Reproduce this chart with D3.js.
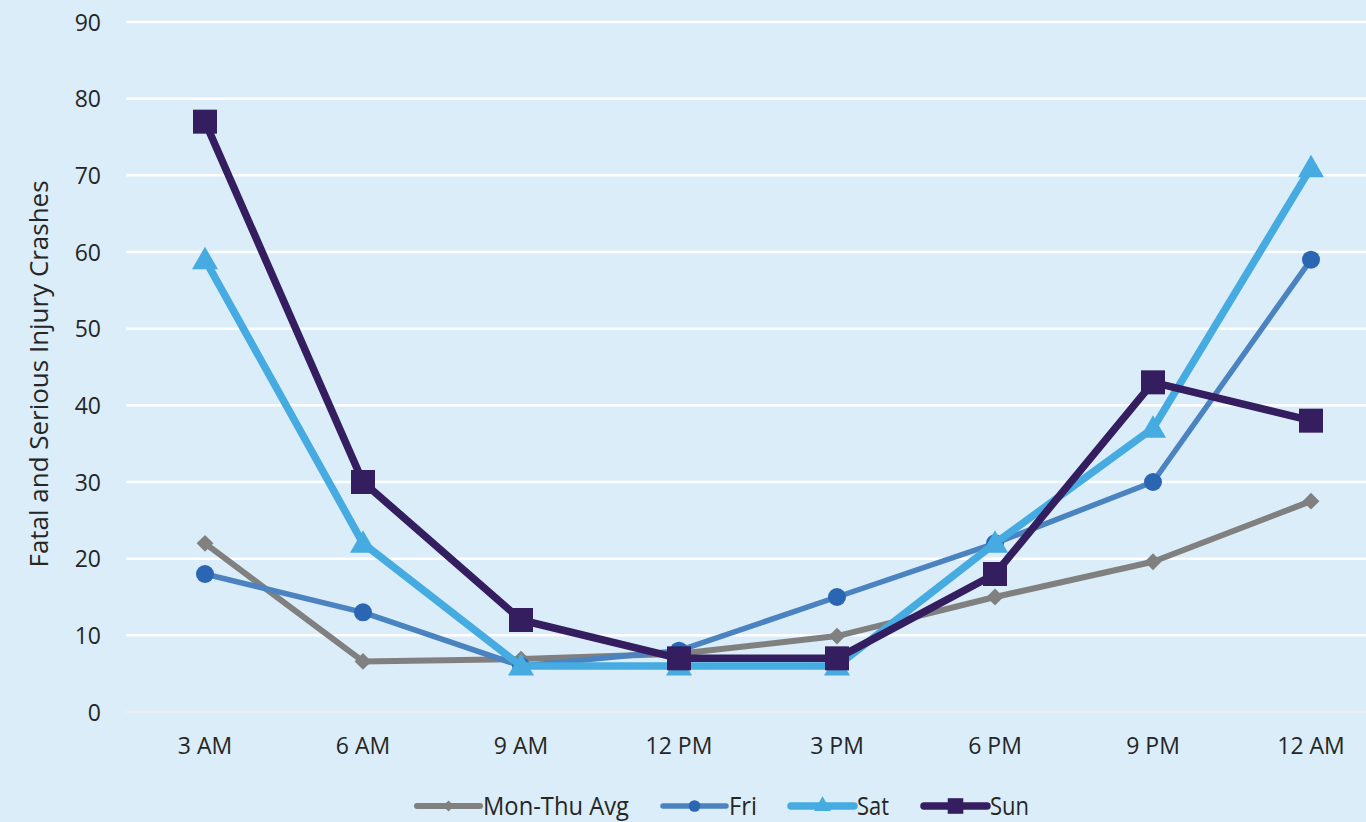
<!DOCTYPE html>
<html>
<head>
<meta charset="utf-8">
<script src="https://cdn.jsdelivr.net/npm/d3@7"></script>
<style>
  html, body { margin: 0; padding: 0; background: #daedf8; overflow: hidden; }
  svg { display: block; }
</style>
</head>
<body>
<svg id="chart" width="1366" height="822"></svg>
<script>
// Hour-of-day buckets on the horizontal axis
const hours = ["3 AM", "6 AM", "9 AM", "12 PM", "3 PM", "6 PM", "9 PM", "12 AM"];

// Crash counts per bucket for each day group
const monThuAvg = [22, 6.6, 6.9, 7.6, 9.9, 15, 19.6, 27.5];
const fri = [18, 13, 6, 8, 15, 22, 30, 59];
const sat = [59, 22, 6, 6, 6, 22, 37, 71];
const sun = [77, 30, 12, 7, 7, 18, 43, 38];

const yTicks = [0, 10, 20, 30, 40, 50, 60, 70, 80, 90];

const series = [
  { name: "Mon-Thu Avg", values: monThuAvg, line: "#808080", mark: "#808080", width: 6, shape: "diamond", size: 19, legendW: 146 },
  { name: "Fri", values: fri, line: "#4b83c1", mark: "#2a66b2", width: 5.5, shape: "circle", size: 18, legendW: 28 },
  { name: "Sat", values: sat, line: "#45abe0", mark: "#45abe0", width: 7.5, shape: "triangle", size: 26, legendW: 32 },
  { name: "Sun", values: sun, line: "#341e5f", mark: "#341e5f", width: 7.5, shape: "square", size: 24, legendW: 39 }
];

const svg = d3.select("#chart");
const plotLeft = 126, plotRight = 1390, plotTop = 22, plotBottom = 712;
const textColor = "#262626";
const labelFont = "'Open Sans', sans-serif";

const x = d3.scaleBand().domain(hours).range([plotLeft, plotRight]);
const y = d3.scaleLinear().domain([0, 90]).range([plotBottom, plotTop]);
const cx = h => x(h) + x.bandwidth() / 2;

// Horizontal gridlines
svg.append("g").selectAll("line").data(yTicks).join("line")
  .attr("x1", plotLeft).attr("x2", 1366)
  .attr("y1", d => y(d)).attr("y2", d => y(d))
  .attr("stroke", d => d === 0 ? "#eceef0" : "#ffffff")
  .attr("stroke-width", 2.5);

// Y axis tick labels
const yAxis = svg.append("g")
  .attr("transform", `translate(${plotLeft - 25},0)`)
  .call(d3.axisLeft(y).tickValues(yTicks).tickSize(0).tickPadding(0));
yAxis.select(".domain").remove();
yAxis.attr("font-family", labelFont).attr("font-size", 23);
yAxis.selectAll("text")
  .attr("fill", textColor)
  .attr("dy", "0.36em");

// X axis tick labels
const xAxis = svg.append("g")
  .attr("transform", `translate(0,${plotBottom + 26})`)
  .call(d3.axisBottom(x).tickSize(0).tickPadding(0));
xAxis.select(".domain").remove();
xAxis.attr("font-family", labelFont).attr("font-size", 23);
xAxis.selectAll("text")
  .attr("fill", textColor)
  .attr("dy", "0.71em");

// Y axis title (condensed to the height of the plot band)
svg.append("text")
  .attr("transform", `translate(48,${(plotTop + plotBottom) / 2 + 7}) rotate(-90)`)
  .attr("text-anchor", "middle")
  .attr("font-family", labelFont)
  .attr("font-size", 25)
  .attr("textLength", 387)
  .attr("lengthAdjust", "spacingAndGlyphs")
  .attr("fill", textColor)
  .text("Fatal and Serious Injury Crashes");

const symbolFor = s => {
  if (s.shape === "square") return d3.symbol().type(d3.symbolSquare).size(s.size * s.size);
  if (s.shape === "circle") return d3.symbol().type(d3.symbolCircle).size(Math.PI * (s.size / 2) ** 2);
  if (s.shape === "triangle") return d3.symbol().type(d3.symbolTriangle).size(s.size * s.size * 0.433);
  return d3.symbol().type(d3.symbolDiamond2).size(s.size * s.size / 2);
};

const line = d3.line().x((d, i) => cx(hours[i])).y(d => y(d));

// Series lines and markers
series.forEach(s => {
  const g = svg.append("g");
  g.append("path")
    .datum(s.values)
    .attr("d", line)
    .attr("fill", "none")
    .attr("stroke", s.line)
    .attr("stroke-width", s.width)
    .attr("stroke-linejoin", "round")
    .attr("stroke-linecap", "round");
  g.selectAll("path.m").data(s.values).join("path")
    .attr("class", "m")
    .attr("d", symbolFor(s))
    .attr("transform", (d, i) => `translate(${cx(hours[i])},${y(d) + (s.shape === "triangle" ? 2 : 0)})`)
    .attr("fill", s.mark);
});

// Legend
const legendX = [417, 663, 791, 924];
const legendY = 806;
const lineLen = 63;
const lg = svg.append("g");
series.forEach((s, i) => {
  const lx = legendX[i];
  lg.append("line")
    .attr("x1", lx).attr("x2", lx + lineLen)
    .attr("y1", legendY).attr("y2", legendY)
    .attr("stroke", s.line)
    .attr("stroke-width", s.width)
    .attr("stroke-linecap", "round");
  const sm = Object.assign({}, s, { size: s.size * 0.65 });
  lg.append("path")
    .attr("d", symbolFor(sm))
    .attr("transform", `translate(${lx + lineLen / 2},${legendY})`)
    .attr("fill", s.mark);
  lg.append("text")
    .attr("x", lx + lineLen + 3)
    .attr("y", legendY)
    .attr("dy", "0.36em")
    .attr("font-family", labelFont)
    .attr("font-size", 26)
    .attr("textLength", s.legendW)
    .attr("lengthAdjust", "spacingAndGlyphs")
    .attr("fill", textColor)
    .text(s.name);
});
</script>
</body>
</html>
